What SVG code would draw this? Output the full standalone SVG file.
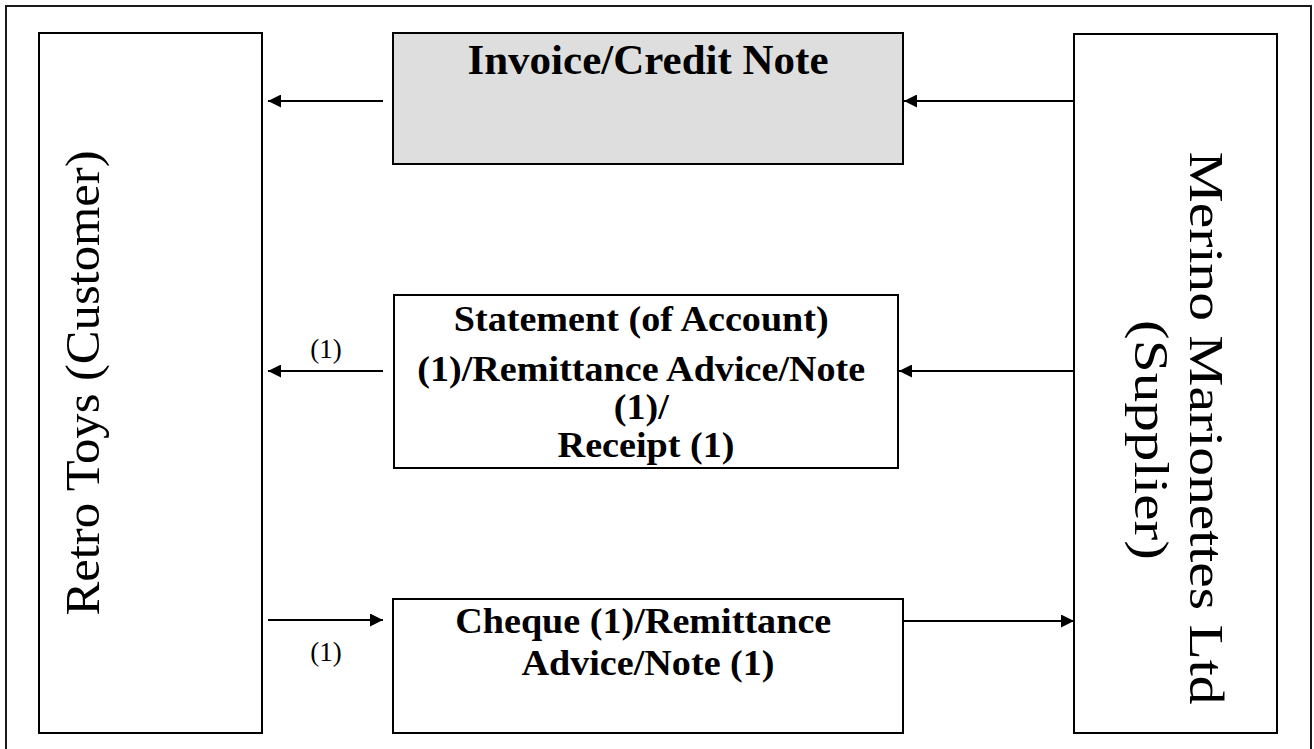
<svg xmlns="http://www.w3.org/2000/svg" width="1314" height="749" viewBox="0 0 1314 749">
  <style>
    .box { fill: #ffffff; stroke: #000000; stroke-width: 2; }
    .shaded { fill: #dedede; }
    .frame { fill: none; stroke: #1a1a1a; stroke-width: 2; }
    .flow { stroke: #000000; stroke-width: 2; fill: none; marker-end: url(#head); }
    .title { font-family: "Liberation Serif", "Times New Roman", serif; font-weight: bold; text-anchor: middle; fill: #000; }
    .party { font-family: "Liberation Serif", "Times New Roman", serif; font-size: 48px; text-anchor: middle; fill: #000; }
    .note { font-family: "Liberation Serif", "Times New Roman", serif; font-size: 27px; text-anchor: middle; fill: #000; }
  </style>
  <defs>
    <marker id="head" viewBox="0 0 10 10" refX="10" refY="5" markerWidth="7.5" markerHeight="6.5" markerUnits="strokeWidth" orient="auto">
      <path d="M0,0 L10,5 L0,10 Z" fill="#000"/>
    </marker>
  </defs>

  <rect width="1314" height="749" fill="#ffffff"/>

  <!-- outer page frame -->
  <path class="frame" d="M6,760 V6 H1311 V760"/>

  <g id="customer">
    <rect class="box" x="39" y="33" width="223" height="700"/>
    <text class="party" transform="translate(99,383) rotate(-90)" textLength="465" lengthAdjust="spacingAndGlyphs">Retro Toys (Customer)</text>
  </g>

  <g id="supplier">
    <rect class="box" x="1074" y="34" width="203" height="699"/>
    <text class="party" transform="translate(1190,428) rotate(90)" textLength="553" lengthAdjust="spacingAndGlyphs">Merino Marionettes Ltd</text>
    <text class="party" transform="translate(1135,440) rotate(90)" textLength="240" lengthAdjust="spacingAndGlyphs">(Supplier)</text>
  </g>

  <g id="invoice">
    <rect class="box shaded" x="393" y="33" width="510" height="131"/>
    <text class="title" x="648" y="74" font-size="43">Invoice/Credit Note</text>
  </g>

  <g id="statement">
    <rect class="box" x="394" y="295" width="504" height="173"/>
    <!-- body text is set slightly wide -->
    <text class="title" font-size="36" transform="translate(646,0) scale(1.06,1)">
      <tspan x="0" y="331">Statement (of Account)</tspan>
      <tspan x="0" y="381">(1)/Remittance Advice/Note</tspan>
      <tspan x="0" y="419">(1)/</tspan>
      <tspan x="0" y="457">Receipt (1)</tspan>
    </text>
  </g>

  <g id="cheque">
    <rect class="box" x="393" y="599" width="510" height="134"/>
    <text class="title" font-size="36" transform="translate(648,0) scale(1.06,1)">
      <tspan x="0" y="633">Cheque (1)/Remittance</tspan>
      <tspan x="0" y="675">Advice/Note (1)</tspan>
    </text>
  </g>

  <g id="connectors">
    <line class="flow" x1="383" y1="101" x2="268" y2="101"/>
    <line class="flow" x1="1074" y1="101" x2="904" y2="101"/>
    <line class="flow" x1="383" y1="371" x2="268" y2="371"/>
    <line class="flow" x1="1074" y1="371" x2="899" y2="371"/>
    <line class="flow" x1="268" y1="620" x2="383" y2="620"/>
    <line class="flow" x1="903" y1="621" x2="1074" y2="621"/>
    <text class="note" x="326" y="358">(1)</text>
    <text class="note" x="326" y="661">(1)</text>
  </g>
</svg>
